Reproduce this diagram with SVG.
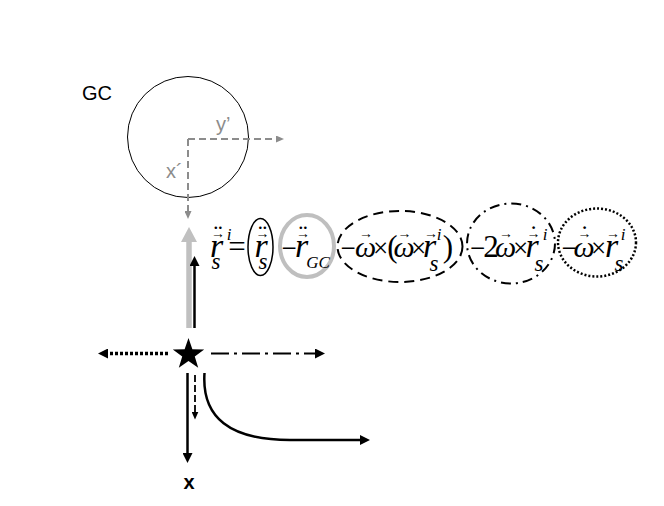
<svg xmlns="http://www.w3.org/2000/svg" width="664" height="506" viewBox="0 0 664 506">
<style>
.lbl{font-family:"Liberation Sans",Arial,sans-serif;font-size:20px}
.gl{fill:#8c8c8c}
.eq{font-family:"Liberation Serif","Times New Roman",serif;text-anchor:middle;fill:#000}
.m{font-style:italic;font-size:34px}
.w{font-style:italic;font-size:30px}
.u{font-size:31px}
.op{font-size:27px}
.sb{font-style:italic;font-size:23px}
.sp{font-style:italic;font-size:17px}
.ar{font-size:14px}
.dt{font-size:26px}
.ax{fill:none;stroke:#8c8c8c;stroke-width:2;stroke-dasharray:7 4}
.blk{fill:none;stroke:#000;stroke-width:2.5}
.ell{fill:none;stroke:#000;stroke-width:2}
</style>
<defs>
<marker id="hBlk" viewBox="0 0 10 10" refX="5" refY="5" markerWidth="10" markerHeight="10" markerUnits="userSpaceOnUse" orient="auto"><path d="M0,0 L10,5 L0,10 z" fill="#000"/></marker>
<marker id="hBlkS" viewBox="0 0 8 7" refX="4" refY="3.5" markerWidth="8" markerHeight="7" markerUnits="userSpaceOnUse" orient="auto"><path d="M0,0 L8,3.5 L0,7 z" fill="#000"/></marker>
<marker id="hGray" viewBox="0 0 8 7" refX="4" refY="3.5" markerWidth="8" markerHeight="7" markerUnits="userSpaceOnUse" orient="auto"><path d="M0,0 L8,3.5 L0,7 z" fill="#8c8c8c"/></marker>
<marker id="hGrayBig" viewBox="0 0 15 16" refX="7" refY="8" markerWidth="15" markerHeight="16" markerUnits="userSpaceOnUse" orient="auto"><path d="M0,0 L15,8 L0,16 z" fill="#c0c0c0"/></marker>
</defs>
<rect width="664" height="506" fill="#fff"/>

<g id="gc">
<circle cx="188" cy="137" r="60.5" fill="none" stroke="#000" stroke-width="1"/>
<text class="lbl" x="82" y="100">GC</text>
<text class="lbl gl" x="216" y="131">y’</text>
<text class="lbl gl" x="166" y="178">x´</text>
</g>

<g id="star">
<polygon points="188.5,338 192.38,349.16 204.19,349.4 194.78,356.54 198.2,367.85 188.5,361.1 178.8,367.85 182.22,356.54 172.81,349.4 184.62,349.16" fill="#000"/>
</g>

<g id="x-label">
<text x="189" y="488.5" font-family="'Liberation Sans',Arial,sans-serif" font-size="20" font-weight="bold" text-anchor="middle">x</text>
</g>

<g id="connectors">
<path class="ax" d="M188,139 H280" marker-end="url(#hGray)"/>
<path class="ax" d="M188,139 V215" marker-end="url(#hGray)"/>
<path d="M189,328 V235" stroke="#c0c0c0" stroke-width="5.5" fill="none" marker-end="url(#hGrayBig)"/>
<path class="blk" d="M194.5,328 V261" marker-end="url(#hBlk)"/>
<path d="M168,353.5 H103" fill="none" stroke="#000" stroke-width="3.5" stroke-dasharray="3 2" marker-end="url(#hBlk)"/>
<path d="M211,353.5 H320" fill="none" stroke="#000" stroke-width="2" stroke-dasharray="18 5 3 5" marker-end="url(#hBlk)"/>
<path class="blk" d="M187.5,373 V458" marker-end="url(#hBlk)"/>
<path d="M195,375 V415.5" fill="none" stroke="#000" stroke-width="1.8" stroke-dasharray="7 3" marker-end="url(#hBlkS)"/>
<path class="blk" d="M204.5,373 Q200,440 290,440 L365,440" marker-end="url(#hBlk)"/>
</g>

<g id="eq-lhs">
<text class="eq"><tspan class="m" x="216.5" y="257">r</tspan><tspan class="ar" x="218" y="237.5">→</tspan><tspan class="dt" x="218" y="243">¨</tspan><tspan class="sp" x="229" y="240">i</tspan><tspan class="sb" x="216" y="269">s</tspan><tspan class="u" x="237" y="257">=</tspan></text>
</g>

<g id="term-rs">
<ellipse cx="260.5" cy="247" rx="12.5" ry="28.5" fill="none" stroke="#000" stroke-width="1.5"/>
<text class="eq"><tspan class="m" x="261" y="257">r</tspan><tspan class="ar" x="262.5" y="237.5">→</tspan><tspan class="dt" x="262.5" y="243">¨</tspan><tspan class="sb" x="263" y="269">s</tspan></text>
</g>

<g id="term-rgc">
<ellipse cx="307" cy="246" rx="27" ry="31" fill="none" stroke="#bfbfbf" stroke-width="4"/>
<text class="eq"><tspan class="op" x="289" y="257">−</tspan><tspan class="m" x="301.5" y="257">r</tspan><tspan class="ar" x="303" y="237.5">→</tspan><tspan class="dt" x="303" y="243">¨</tspan><tspan class="sp" x="318" y="268" font-size="19">GC</tspan></text>
</g>

<g id="term-centrifugal">
<ellipse class="ell" cx="400" cy="246.5" rx="62.5" ry="35.5" stroke-dasharray="10 6"/>
<text class="eq"><tspan class="op" x="348" y="257">−</tspan><tspan class="w" x="365.5" y="257">ω</tspan><tspan class="ar" x="366" y="237.5">→</tspan><tspan class="op" x="380.5" y="257">×</tspan><tspan class="u" x="392.5" y="257">(</tspan><tspan class="w" x="404" y="257">ω</tspan><tspan class="ar" x="404.5" y="237.5">→</tspan><tspan class="op" x="418.5" y="257">×</tspan><tspan class="m" x="429.5" y="257">r</tspan><tspan class="ar" x="431" y="237.5">→</tspan><tspan class="sp" x="439" y="240">i</tspan><tspan class="sb" x="434" y="271">s</tspan><tspan class="u" x="448" y="257">)</tspan></text>
</g>

<g id="term-coriolis">
<ellipse class="ell" cx="511" cy="243.5" rx="44" ry="40" stroke-dasharray="10 5 2 5"/>
<text class="eq"><tspan class="op" x="477.5" y="257">−</tspan><tspan class="u" x="491" y="257">2</tspan><tspan class="w" x="505.5" y="257">ω</tspan><tspan class="ar" x="506" y="237.5">→</tspan><tspan class="op" x="520.5" y="257">×</tspan><tspan class="m" x="532" y="257">r</tspan><tspan class="ar" x="533.5" y="237.5">→</tspan><tspan class="dt" x="533.5" y="243">˙</tspan><tspan class="sp" x="545" y="240">i</tspan><tspan class="sb" x="539" y="271">s</tspan></text>
</g>

<g id="term-euler">
<ellipse cx="597" cy="242.5" rx="39" ry="34" fill="none" stroke="#000" stroke-width="2.5" stroke-dasharray="2 2"/>
<text class="eq"><tspan class="op" x="569" y="257">−</tspan><tspan class="w" x="584" y="257">ω</tspan><tspan class="ar" x="584.5" y="237.5">→</tspan><tspan class="dt" x="584.5" y="243">˙</tspan><tspan class="op" x="598.5" y="257">×</tspan><tspan class="m" x="611.5" y="257">r</tspan><tspan class="ar" x="613" y="237.5">→</tspan><tspan class="sp" x="623" y="240">i</tspan><tspan class="sb" x="619" y="271">s</tspan></text>
</g>
</svg>
